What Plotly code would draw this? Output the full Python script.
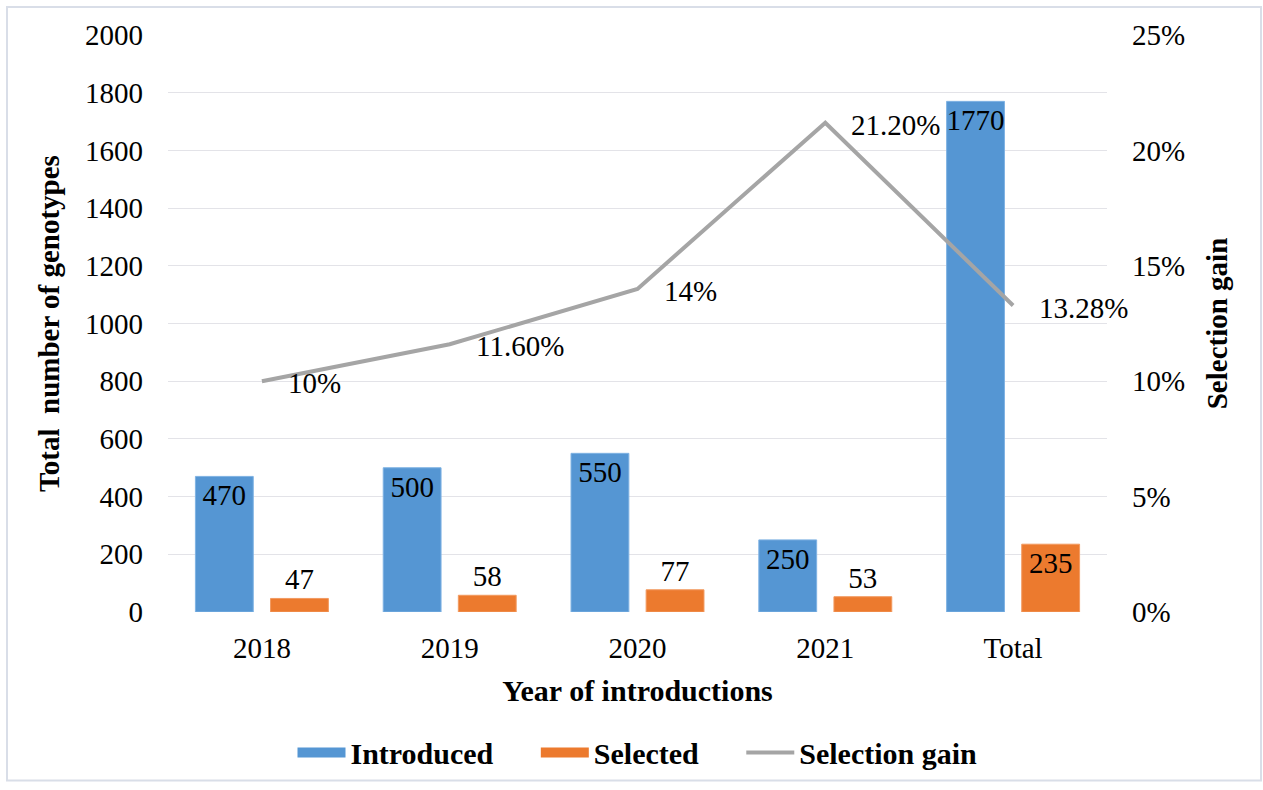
import plotly.graph_objects as go

# Genotype introductions and selections by year
years = ["2018", "2019", "2020", "2021", "Total"]
introduced = [470, 500, 550, 250, 1770]
selected = [47, 58, 77, 53, 235]
gain_pct = [10, 11.6, 14, 21.2, 13.28]
gain_labels = ["10%", "11.60%", "14%", "21.20%", "13.28%"]

left_ticks = [0, 200, 400, 600, 800, 1000, 1200, 1400, 1600, 1800, 2000]
right_ticks = [0, 5, 10, 15, 20, 25]
right_ticktext = ["0%", "5%", "10%", "15%", "20%", "25%"]

FONT = "Liberation Serif"
BLUE = "#5596D3"
ORANGE = "#EC7A2E"
GRAY = "#A5A5A5"

W, H = 1263, 790
L, R, T, B = 168, 156, 35, 176
pw = W - L - R
ph = H - T - B

fig = go.Figure()

fig.add_trace(go.Bar(
    x=years, y=introduced, name="Introduced", showlegend=False,
    marker=dict(color=BLUE, line=dict(color="#7FB2E3", width=1)),
    text=[str(v) for v in introduced], textposition="inside", textangle=0,
    insidetextanchor="end", constraintext="none",
    textfont=dict(family=FONT, size=29, color="black"),
    cliponaxis=False,
))
fig.add_trace(go.Bar(
    x=years, y=selected, name="Selected", showlegend=False,
    marker=dict(color=ORANGE, line=dict(color="#F29A60", width=1)),
    text=[str(v) for v in selected], textposition="auto", textangle=0,
    insidetextanchor="end", constraintext="none",
    textfont=dict(family=FONT, size=29, color="black"),
    cliponaxis=False,
))
fig.add_trace(go.Scatter(
    x=years, y=gain_pct, name="Selection gain", yaxis="y2", showlegend=False,
    mode="lines", line=dict(color=GRAY, width=4),
))

# Legend keys: wide flat swatches for the bars, a line for the gain
pad = "\u00a0" * 5
for name, color, width in [("Introduced" + pad, BLUE, 12), ("Selected" + pad, ORANGE, 12),
                           ("Selection gain", GRAY, 4)]:
    fig.add_trace(go.Scatter(
        x=[None], y=[None], name=name, mode="lines",
        line=dict(color=color, width=width), showlegend=True,
    ))

# Percentage labels beside each point of the gain line (x given as category index)
for i, (val, lab) in enumerate(zip(gain_pct, gain_labels)):
    fig.add_annotation(
        x=i, y=val, xref="x", yref="y2", text=lab, showarrow=False,
        xanchor="left", yanchor="middle", xshift=24, yshift=-2,
        font=dict(family=FONT, size=29, color="black"),
    )

# Light frame around the whole chart
fig.add_shape(type="rect", xref="paper", yref="paper",
              x0=(7 - L) / pw, x1=(1261 - L) / pw,
              y0=(H - B - 783) / ph, y1=(H - B - 7) / ph,
              line=dict(color="#D9DEE8", width=2), layer="below")

fig.update_layout(
    width=W, height=H,
    margin=dict(l=L, r=R, t=T, b=B),
    paper_bgcolor="white", plot_bgcolor="white",
    font=dict(family=FONT, size=29, color="black"),
    barmode="group", bargap=0.2, bargroupgap=0.23,
    showlegend=True,
    legend=dict(orientation="h", x=0.5, xanchor="center",
                y=-(755 - (H - B)) / ph, yanchor="middle",
                font=dict(family=FONT, size=30, color="black", weight="bold"),
                itemwidth=48, traceorder="normal"),
    xaxis=dict(
        type="category", categoryorder="array", categoryarray=years,
        range=[-0.5, len(years) - 0.5], autorange=False,
        title=dict(text="<b>Year of introductions</b>", font=dict(size=30), standoff=16),
        showline=False, ticks="", tickfont=dict(size=29), ticklabelstandoff=16,
    ),
    yaxis=dict(
        title=dict(text="<b>Total  number of genotypes</b>", font=dict(size=29), standoff=16),
        range=[0, 2000], autorange=False, tickvals=left_ticks,
        showgrid=True, gridcolor="#E3E3E8", gridwidth=1,
        zeroline=False, showline=False, ticks="",
        tickfont=dict(size=29), ticklabelstandoff=24,
    ),
    yaxis2=dict(
        title=dict(text="<b>Selection gain</b>", font=dict(size=29), standoff=22),
        overlaying="y", side="right", range=[0, 25], autorange=False,
        tickvals=right_ticks, ticktext=right_ticktext,
        showgrid=False, zeroline=False, showline=False, ticks="",
        tickfont=dict(size=29), ticklabelstandoff=24,
    ),
)

fig.write_html("out.html")
